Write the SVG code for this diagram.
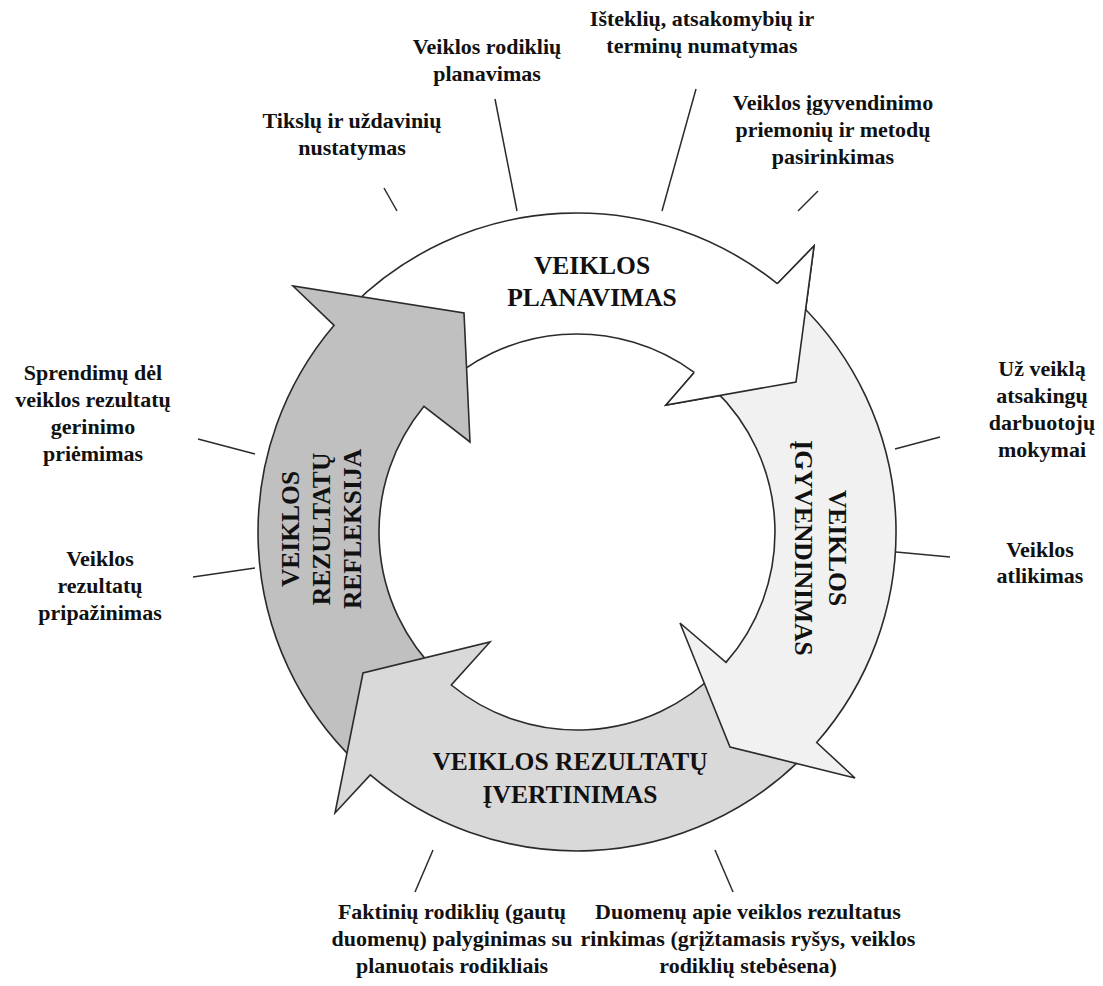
<svg xmlns="http://www.w3.org/2000/svg" width="1103" height="986" viewBox="0 0 1103 986">
<style>
.arrow{stroke:#2b2b2b;stroke-width:1.6;stroke-linejoin:miter}
.big{font-family:"Liberation Serif","Times New Roman",serif;font-weight:bold;font-size:25.5px;fill:#111;text-anchor:middle}
.lbl{font-family:"Liberation Serif","Times New Roman",serif;font-weight:bold;font-size:22px;fill:#111;text-anchor:middle}
.lead{stroke:#2b2b2b;stroke-width:1.5;fill:none}
</style>
<rect width="1103" height="986" fill="#ffffff"/>
<g id="arrow-planavimas">
<path class="arrow" fill="#ffffff" d="M351.4,306.4 A319,319 0 0 1 777.3,283.7 L814,246 L796,382 L666,405 L694.2,372.4 A198,198 0 0 0 437,392 Z"/>
</g>
<g id="arrow-refleksija">
<path class="arrow" fill="#c0c0c0" d="M355.4,761.5 A319,319 0 0 1 334.1,325.3 L293,286 L464,313 L470,442 L424,406.3 A198,198 0 0 0 439.5,674.4 Z"/>
<text class="big" transform="translate(298.5,529) rotate(-90)"><tspan x="0" y="0">VEIKLOS</tspan><tspan x="0" y="31">REZULTATŲ</tspan><tspan x="0" y="62">REFLEKSIJA</tspan></text>
</g>
<g id="arrow-ivertinimas">
<path class="arrow" fill="#d9d9d9" d="M804.5,755.6 A319,319 0 0 1 370.3,774.9 L335,813 L363,673 L490,642 L451.3,685 A198,198 0 0 0 718.2,670.8 Z"/>
<text class="big"><tspan x="570" y="770">VEIKLOS REZULTATŲ</tspan><tspan x="570" y="803">ĮVERTINIMAS</tspan></text>
</g>
<g id="arrow-igyvendinimas">
<path class="arrow" fill="#f1f1f1" d="M798.6,302.5 A319,319 0 0 1 816.7,742.5 L855,778 L730,747 L680,623 L726,662.4 A198,198 0 0 0 714.5,389.6 Z"/>
<text class="big" transform="translate(829,548) rotate(90)"><tspan x="0" y="0">VEIKLOS</tspan><tspan x="0" y="34">ĮGYVENDINIMAS</tspan></text>
</g>
<g id="arrow-planavimas-head">
<polygon fill="#ffffff" stroke="none" points="777.3,283.7 814,246 796,382 666,405 694.2,372.4"/>
<polyline class="arrow" fill="none" points="777.3,283.7 814,246 796,382 666,405 694.2,372.4"/>
<text class="big"><tspan x="592" y="274">VEIKLOS</tspan><tspan x="592" y="306">PLANAVIMAS</tspan></text>
</g>
<g id="connectors">
<line class="lead" x1="384" y1="188" x2="397" y2="211"/>
<line class="lead" x1="495" y1="99" x2="517" y2="211"/>
<line class="lead" x1="696" y1="89" x2="662" y2="211"/>
<line class="lead" x1="818" y1="191" x2="798" y2="211"/>
<line class="lead" x1="895" y1="449" x2="940" y2="437"/>
<line class="lead" x1="896" y1="552" x2="950" y2="557"/>
<line class="lead" x1="715" y1="850" x2="733" y2="892"/>
<line class="lead" x1="433" y1="850" x2="415" y2="892"/>
<line class="lead" x1="198" y1="439" x2="255" y2="454"/>
<line class="lead" x1="193" y1="577" x2="255" y2="568"/>
</g>
<g id="label-tikslu">
<text class="lbl"><tspan x="352" y="128">Tikslų ir uždavinių</tspan><tspan x="352" y="155">nustatymas</tspan></text>
</g>
<g id="label-rodikliu">
<text class="lbl"><tspan x="487" y="54">Veiklos rodiklių</tspan><tspan x="487" y="81">planavimas</tspan></text>
</g>
<g id="label-istekliu">
<text class="lbl"><tspan x="702" y="26">Išteklių, atsakomybių ir</tspan><tspan x="702" y="53">terminų numatymas</tspan></text>
</g>
<g id="label-priemoniu">
<text class="lbl"><tspan x="833" y="110">Veiklos įgyvendinimo</tspan><tspan x="833" y="137">priemonių ir metodų</tspan><tspan x="833" y="164">pasirinkimas</tspan></text>
</g>
<g id="label-mokymai">
<text class="lbl"><tspan x="1042" y="376">Už veiklą</tspan><tspan x="1042" y="403">atsakingų</tspan><tspan x="1042" y="430">darbuotojų</tspan><tspan x="1042" y="457">mokymai</tspan></text>
</g>
<g id="label-atlikimas">
<text class="lbl"><tspan x="1040" y="557">Veiklos</tspan><tspan x="1040" y="583">atlikimas</tspan></text>
</g>
<g id="label-duomenu">
<text class="lbl"><tspan x="748" y="919">Duomenų apie veiklos rezultatus</tspan><tspan x="748" y="946">rinkimas (grįžtamasis ryšys, veiklos</tspan><tspan x="748" y="973">rodiklių stebėsena)</tspan></text>
</g>
<g id="label-faktiniu">
<text class="lbl"><tspan x="452" y="919">Faktinių rodiklių (gautų</tspan><tspan x="452" y="946">duomenų) palyginimas su</tspan><tspan x="452" y="973">planuotais rodikliais</tspan></text>
</g>
<g id="label-pripazinimas">
<text class="lbl"><tspan x="100" y="566">Veiklos</tspan><tspan x="100" y="593">rezultatų</tspan><tspan x="100" y="620">pripažinimas</tspan></text>
</g>
<g id="label-sprendimu">
<text class="lbl"><tspan x="93" y="380">Sprendimų dėl</tspan><tspan x="93" y="407">veiklos rezultatų</tspan><tspan x="93" y="434">gerinimo</tspan><tspan x="93" y="461">priėmimas</tspan></text>
</g>
</svg>
